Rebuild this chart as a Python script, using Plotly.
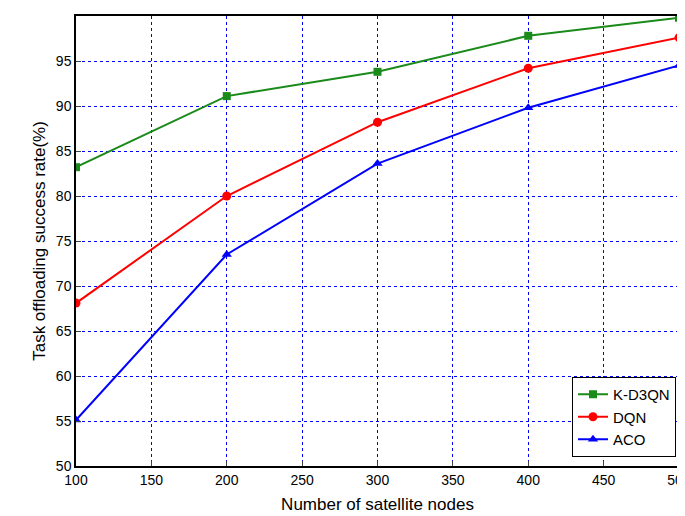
import plotly.graph_objects as go

nodes = [100, 200, 300, 400, 500]
kd3qn = [83.2, 91.1, 93.8, 97.8, 99.8]
dqn = [68.1, 80.0, 88.2, 94.2, 97.6]
aco = [55.1, 73.5, 83.6, 89.8, 94.5]

fig = go.Figure()
fig.add_trace(go.Scatter(x=nodes, y=kd3qn, name="K-D3QN", mode="lines+markers",
                         line=dict(color="#1a8a1a", width=2), marker=dict(symbol="square", size=8)))
fig.add_trace(go.Scatter(x=nodes, y=dqn, name="DQN", mode="lines+markers",
                         line=dict(color="#ff0000", width=2), marker=dict(symbol="circle", size=9)))
fig.add_trace(go.Scatter(x=nodes, y=aco, name="ACO", mode="lines+markers",
                         line=dict(color="#0000ff", width=2), marker=dict(symbol="triangle-up", size=9)))

axis = dict(showline=True, linecolor="black", linewidth=1.5, mirror=True, ticks="inside",
            ticklen=5, showgrid=True, gridcolor="#0000ff", griddash="dot", gridwidth=1,
            zeroline=False, automargin=False, tickfont=dict(size=14, color="black"))
fig.update_xaxes(axis, range=[100, 500], dtick=50,
                 title=dict(text="Number of satellite nodes", font=dict(size=17, color="black"), standoff=12))
fig.update_yaxes(axis, range=[50, 100], dtick=5,
                 title=dict(text="Task offloading success rate(%)", font=dict(size=17, color="black"), standoff=6))
fig.update_layout(
    width=685, height=516, plot_bgcolor="white", paper_bgcolor="white",
    font=dict(family="Liberation Sans, Arial, sans-serif"),
    margin=dict(l=68, r=14, t=8, b=58),
    legend=dict(x=0.995, y=0.02, xanchor="right", yanchor="bottom", bordercolor="black",
                borderwidth=1, bgcolor="white", font=dict(size=15, color="black")),
)
fig.write_html("out.html")
